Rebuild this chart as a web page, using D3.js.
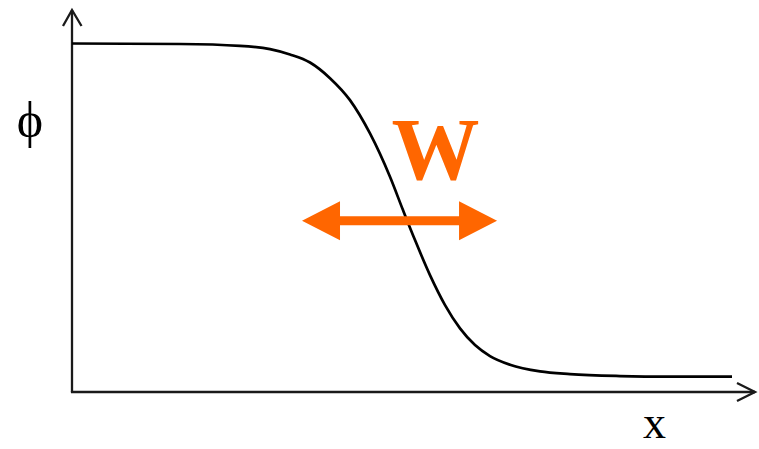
<!DOCTYPE html>
<html>
<head>
<meta charset="utf-8">
<script src="https://cdn.jsdelivr.net/npm/d3@7"></script>
<style>
  html, body { margin: 0; padding: 0; background: #fff; }
  svg { display: block; }
</style>
</head>
<body>
<svg id="chart" width="759" height="449"></svg>
<script>
// Profile of the order parameter phi across the interface
const xValues   = [0, 16.36, 25.45, 30, 33.03, 36.06, 39.09, 42.12, 45.15, 48.18, 50.15, 51.97, 54.24, 56.52, 58.79, 61.06, 63.33, 66.36, 70.91, 75.45, 83.03, 90.61, 100];
const phiValues = [1.0, 0.9985, 0.993, 0.983, 0.967, 0.943, 0.896, 0.830, 0.730, 0.600, 0.500, 0.410, 0.305, 0.215, 0.145, 0.095, 0.062, 0.036, 0.016, 0.008, 0.002, 0.0, 0.0];
const axisLabels = { y: "\u03D5", x: "x" };
const widthLabel = "W";
// Interface width arrow span (data x units) and its phi level
const widthArrow = [34.85, 64.4];
const widthArrowPhi = 0.468;

const svg = d3.select("#chart");
const orange = "#FF6600";

const x = d3.scaleLinear().domain([0, 100]).range([72, 732]);
const y = d3.scaleLinear().domain([0, 1]).range([376.7, 43.5]);

const xAxisY = 392, yAxisX = 72;
const xAxisEnd = 755, yAxisTop = 10;

// Axes
const axes = svg.append("g").attr("stroke", "#1a1a1a").attr("stroke-width", 2.3).attr("fill", "none");
axes.append("line").attr("x1", yAxisX).attr("y1", xAxisY).attr("x2", yAxisX).attr("y2", yAxisTop);
axes.append("line").attr("x1", yAxisX - 1.1).attr("y1", xAxisY).attr("x2", xAxisEnd).attr("y2", xAxisY);
axes.append("path").attr("d", `M${yAxisX - 9},${yAxisTop + 16} L${yAxisX},${yAxisTop} L${yAxisX + 9.5},${yAxisTop + 16}`);
axes.append("path").attr("d", `M${xAxisEnd - 18},${xAxisY - 9} L${xAxisEnd},${xAxisY} L${xAxisEnd - 18},${xAxisY + 9}`);

// Curve
const line = d3.line().x((d, i) => x(xValues[i])).y(d => y(d)).curve(d3.curveMonotoneX);
svg.append("path").datum(phiValues)
  .attr("d", line)
  .attr("fill", "none")
  .attr("stroke", "#000")
  .attr("stroke-width", 2.7);

// Width double arrow
const ax0 = x(widthArrow[0]), ax1 = x(widthArrow[1]), ay = y(widthArrowPhi);
const headLen = 38, headHalf = 19.5, shaftHalf = 4.5;
svg.append("path")
  .attr("d", `M${ax0},${ay} L${ax0 + headLen},${ay - headHalf} L${ax0 + headLen},${ay - shaftHalf} L${ax1 - headLen},${ay - shaftHalf} L${ax1 - headLen},${ay - headHalf} L${ax1},${ay} L${ax1 - headLen},${ay + headHalf} L${ax1 - headLen},${ay + shaftHalf} L${ax0 + headLen},${ay + shaftHalf} L${ax0 + headLen},${ay + headHalf} Z`)
  .attr("fill", orange);

// Labels
svg.append("text").attr("x", 435.5).attr("y", 179)
  .attr("text-anchor", "middle")
  .attr("font-family", "Liberation Serif, Times New Roman, serif")
  .attr("font-weight", "bold")
  .attr("font-size", 88)
  .attr("fill", orange)
  .text(widthLabel);

svg.append("text").attr("x", 30).attr("y", 137)
  .attr("text-anchor", "middle")
  .attr("font-family", "Liberation Serif, DejaVu Serif, serif")
  .attr("font-size", 50)
  .attr("fill", "#000")
  .text(axisLabels.y);

svg.append("text").attr("x", 654.5).attr("y", 438)
  .attr("text-anchor", "middle")
  .attr("font-family", "Liberation Serif, Times New Roman, serif")
  .attr("font-size", 46)
  .attr("fill", "#000")
  .text(axisLabels.x);
</script>
</body>
</html>
